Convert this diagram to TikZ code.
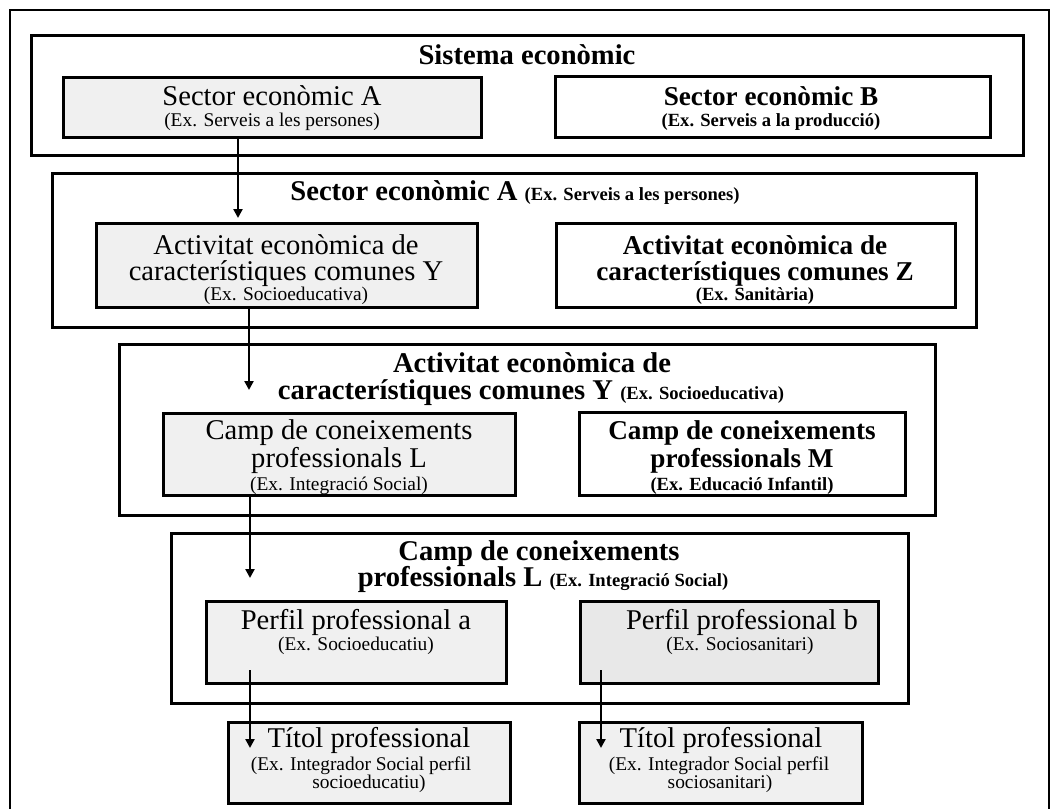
\documentclass[tikz,border=0pt]{standalone}
\usepackage{fontspec}
\setmainfont{Liberation Serif}
\usetikzlibrary{arrows.meta,fit}

% type sizes used in the chart
\newcommand\fbig{\fontsize{14.3}{16}\selectfont}
\newcommand\fbigb{\fontsize{13.6}{16}\selectfont\bfseries}
\newcommand\fsmall{\fontsize{9.7}{11}\selectfont}
\newcommand\fsmallb{\fontsize{9.3}{11}\selectfont\bfseries}

\begin{document}
\begin{tikzpicture}[x=0.5pt,y=-0.5pt,
  frame/.style={draw, line width=1.5pt, inner sep=0pt, outer sep=0pt},
  level/.style={frame, fill=white},
  shaded/.style={frame, fill=black!6},
  shadedb/.style={frame, fill=black!9},
  txt/.style={anchor=mid, inner sep=0pt, outer sep=0pt, font=\fbig},
  txtb/.style={txt, font=\fbig\bfseries},
  txtr/.style={txt, font=\fbigb},
  sub/.style={txt, font=\fsmall},
  subb/.style={txt, font=\fsmallb},
  arr/.style={line width=1.2pt, -{Triangle[length=4.5pt,width=4.5pt]}}]

\useasboundingbox (0,0) rectangle (1051,809);

% outer page frame, open at the bottom
\draw[line width=1pt] (10,809) -- (10,10) -- (1049,10) -- (1049,809);

% ---------- level 1: economic system ----------
\node[level, fit={(31,35) (1023,155)}] (sys) {};
\node[txtb] (sysT) at (527,60) {Sistema econòmic};
\node[shaded, fit={(63,77) (481,137)}] (secA) {};
\node[txt] (secA1) at (272,101) {Sector econòmic A};
\node[sub] (secA2) at (272,122) {(Ex. Serveis a les persones)};
\node[level, fit={(555,76) (990,137)}] (secB) {};
\node[txtr] (secB1) at (771,101) {Sector econòmic B};
\node[subb] (secB2) at (771,122) {(Ex. Serveis a la producció)};

% ---------- level 2: economic sector ----------
\node[level, fit={(52,173) (976,327)}] (sect) {};
\node[txtb] (sectT) at (515,196) {Sector econòmic A {\fsmallb (Ex. Serveis a les persones)}};
\node[shaded, fit={(96,223) (477,307)}] (actY) {};
\node[txt] (actY1) at (286,250) {Activitat econòmica de};
\node[txt] (actY2) at (286,276) {característiques comunes Y};
\node[sub] (actY3) at (286,296) {(Ex. Socioeducativa)};
\node[level, fit={(556,223) (955,307)}] (actZ) {};
\node[txtr] (actZ1) at (755,250) {Activitat econòmica de};
\node[txtr] (actZ2) at (755,276) {característiques comunes Z};
\node[subb] (actZ3) at (755,296) {(Ex. Sanitària)};

% ---------- level 3: economic activity ----------
\node[level, fit={(119,344) (935,515)}] (act) {};
\node[txtb] (actT1) at (532,368) {Activitat econòmica de};
\node[txtb] (actT2) at (531,395) {característiques comunes Y {\fsmallb (Ex. Socioeducativa)}};
\node[shaded, fit={(163,413) (515,495)}] (campL) {};
\node[txt] (campL1) at (339,435) {Camp de coneixements};
\node[txt] (campL2) at (339,463) {professionals L};
\node[sub] (campL3) at (339,486) {(Ex. Integració Social)};
\node[level, fit={(579,412) (905,495)}] (campM) {};
\node[txtr] (campM1) at (742,435) {Camp de coneixements};
\node[txtr] (campM2) at (742,463) {professionals M};
\node[subb] (campM3) at (742,486) {(Ex. Educació Infantil)};

% ---------- level 4: field of professional knowledge ----------
\node[level, fit={(171,533) (908,703)}] (camp) {};
\node[txtb] (campT1) at (539,556) {Camp de coneixements};
\node[txtb] (campT2) at (543,582) {professionals L {\fsmallb (Ex. Integració Social)}};
\node[shaded, fit={(206,601) (506,683)}] (perfA) {};
\node[txt] (perfA1) at (356,625) {Perfil professional a};
\node[sub] (perfA2) at (356,646) {(Ex. Socioeducatiu)};
\node[shadedb, fit={(580,601) (878,683)}] (perfB) {};
\node[txt] (perfB1) at (742,625) {Perfil professional b};
\node[sub] (perfB2) at (740,646) {(Ex. Sociosanitari)};

% ---------- level 5: professional qualifications ----------
\node[shaded, fit={(228,722) (510,803)}] (titA) {};
\node[txt] (titA1) at (369,743) {Títol professional};
\node[sub] (titA2) at (361,766) {(Ex. Integrador Social perfil};
\node[sub] (titA3) at (369,784) {socioeducatiu)};
\node[shaded, fit={(579,722) (862,803)}] (titB) {};
\node[txt] (titB1) at (721,743) {Títol professional};
\node[sub] (titB2) at (719,766) {(Ex. Integrador Social perfil};
\node[sub] (titB3) at (720,784) {sociosanitari)};

% ---------- connectors ----------
\coordinate (x1) at (238,0);
\coordinate (e2) at (249,390);
\coordinate (e3) at (250,578);
\coordinate (s4) at (250,670);
\coordinate (e4) at (250,748);
\coordinate (s5) at (601,670);
\coordinate (e5) at (601,748);

\draw[arr, shorten >=2.5pt] (x1 |- secA.south) -- (x1 |- actY.north);
\draw[arr] (e2 |- actY.south) -- (e2);
\draw[arr] (e3 |- campL.south) -- (e3);
\draw[arr] (s4) -- (e4);
\draw[arr] (s5) -- (e5);
\end{tikzpicture}
\end{document}
